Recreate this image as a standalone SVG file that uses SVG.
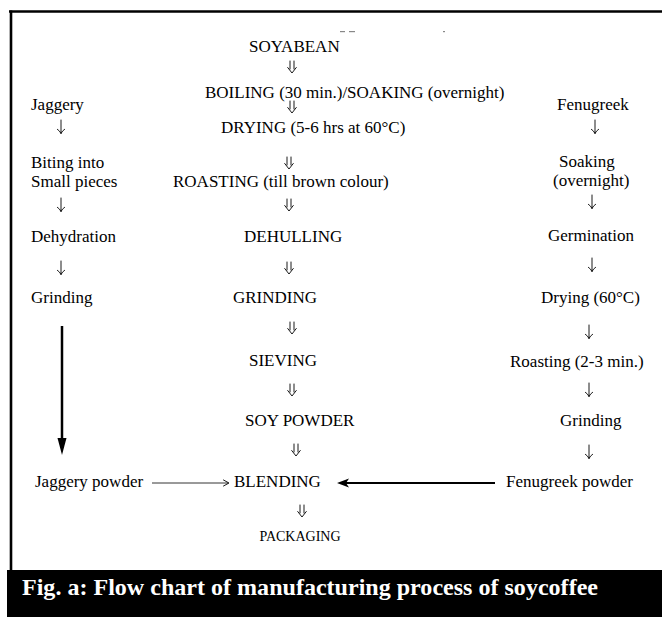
<svg xmlns="http://www.w3.org/2000/svg" width="662" height="617" viewBox="0 0 662 617">
<style>
  text{font-family:"Liberation Serif","Times New Roman",serif;font-size:17px;fill:#000}
  .sm{font-size:14px}
  .cap{font-size:23px;font-weight:bold;fill:#fff}
  .ln{fill:none;stroke:#000;stroke-width:0.9;stroke-linecap:round;stroke-linejoin:round}
  .frame{stroke:#000;stroke-width:2.6;fill:none}
  .art{fill:#888}
</style>
<defs>
  <g id="dbl"><path class="ln" d="M-2,-6 V2 M2,-6 V2 M-4.3,0.5 L0,6 L4.3,0.5"/></g>
  <g id="sgl"><path class="ln" d="M0,-7 V6.5 M-3.6,2.3 Q-1.2,3.8 0,6.5 Q1.2,3.8 3.6,2.3"/></g>
</defs>

<!-- frame and caption bar -->
<g id="frame">
  <line class="frame" x1="9" y1="11.5" x2="662" y2="11.5"/>
  <line class="frame" x1="11" y1="10.5" x2="11" y2="571"/>
  <rect x="7" y="570" width="655" height="47" fill="#000"/>
  <rect class="art" x="340" y="31" width="5" height="1.2"/>
  <rect class="art" x="349" y="31" width="6" height="1.2"/>
  <rect class="art" x="443" y="31" width="2" height="1.2"/>
</g>

<!-- centre column -->
<g id="soyabean"><text x="249" y="52">SOYABEAN</text></g>
<g id="boiling"><text x="205" y="98">BOILING (30 min.)/SOAKING (overnight)</text></g>
<g id="drying"><text x="221" y="133">DRYING (5-6 hrs at 60°C)</text></g>
<g id="roasting"><text x="173" y="187">ROASTING (till brown colour)</text></g>
<g id="dehulling"><text x="244" y="242">DEHULLING</text></g>
<g id="grinding"><text x="233" y="303">GRINDING</text></g>
<g id="sieving"><text x="249" y="366">SIEVING</text></g>
<g id="soypowder"><text x="245" y="426">SOY POWDER</text></g>
<g id="blending"><text x="234" y="487">BLENDING</text></g>
<g id="packaging"><text class="sm" x="300" y="541" text-anchor="middle">PACKAGING</text></g>

<!-- jaggery column -->
<g id="jaggery"><text x="31" y="110">Jaggery</text></g>
<g id="biting"><text x="31" y="168">Biting into</text><text x="31" y="187">Small pieces</text></g>
<g id="dehydration"><text x="31" y="242">Dehydration</text></g>
<g id="jgrinding"><text x="31" y="303">Grinding</text></g>
<g id="jpowder"><text x="35" y="487">Jaggery powder</text></g>

<!-- fenugreek column -->
<g id="fenugreek"><text x="557" y="110">Fenugreek</text></g>
<g id="soaking"><text x="559" y="167">Soaking</text><text x="553" y="186">(overnight)</text></g>
<g id="germination"><text x="548" y="241">Germination</text></g>
<g id="fdrying"><text x="541" y="303">Drying (60°C)</text></g>
<g id="froasting"><text x="510" y="367">Roasting (2-3 min.)</text></g>
<g id="fgrinding"><text x="560" y="426">Grinding</text></g>
<g id="fpowder"><text x="506" y="487">Fenugreek powder</text></g>

<!-- connectors -->
<g id="connectors">
  <use href="#dbl" x="292" y="67"/>
  <use href="#dbl" x="292" y="107"/>
  <use href="#dbl" x="289" y="163"/>
  <use href="#dbl" x="289" y="205"/>
  <use href="#dbl" x="289" y="268"/>
  <use href="#dbl" x="292" y="328"/>
  <use href="#dbl" x="292" y="390"/>
  <use href="#dbl" x="296" y="450"/>
  <use href="#dbl" x="302" y="511"/>

  <use href="#sgl" x="61" y="127"/>
  <use href="#sgl" x="61" y="205"/>
  <use href="#sgl" x="61" y="268"/>

  <use href="#sgl" x="595" y="127"/>
  <use href="#sgl" x="592" y="202"/>
  <use href="#sgl" x="592" y="265"/>
  <use href="#sgl" x="589" y="332"/>
  <use href="#sgl" x="589" y="390"/>
  <use href="#sgl" x="589" y="452"/>

  <line x1="62" y1="326" x2="62" y2="440" stroke="#000" stroke-width="2.5"/>
  <polygon points="57.5,438 66.5,438 62,455" fill="#000"/>

  <line x1="152" y1="483" x2="228" y2="483" stroke="#000" stroke-width="0.8"/>
  <path class="ln" d="M223.5,480 L229,483 L223.5,486"/>

  <line x1="495" y1="483" x2="346" y2="483" stroke="#000" stroke-width="2"/>
  <polygon points="349,478.5 346,483 349,487.5 337,483" fill="#000"/>
</g>

<g id="caption"><text class="cap" x="22" y="595" textLength="576" lengthAdjust="spacingAndGlyphs">Fig. a: Flow chart of manufacturing process of soycoffee</text></g>
</svg>
